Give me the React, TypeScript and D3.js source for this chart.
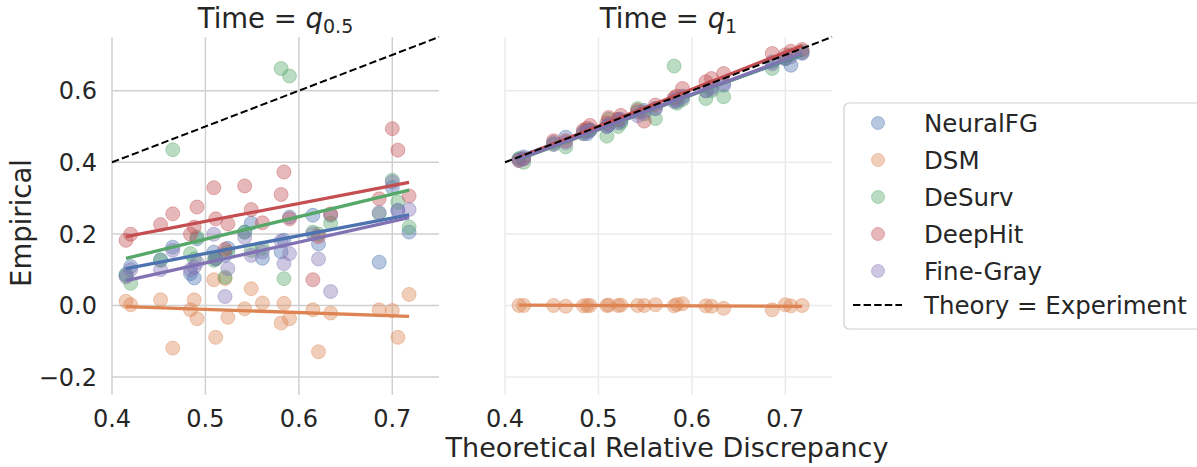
import React from 'react';
import * as d3 from 'd3';

// experiment settings (theoretical relative discrepancy)
const xs = [0.415, 0.42, 0.452, 0.465, 0.484, 0.488, 0.491, 0.509, 0.511, 0.521, 0.524, 0.542,
  0.549, 0.561, 0.581, 0.584, 0.59, 0.615, 0.621, 0.634, 0.686, 0.7, 0.706, 0.718];

const models = ['NeuralFG', 'DSM', 'DeSurv', 'DeepHit', 'Fine-Gray'];
const colors = ['#4C72B0', '#DD8452', '#55A868', '#C44E52', '#8172B3'];

// Time = q0.5
const halfNeuralFG = [0.087, 0.109, 0.128, 0.163, 0.089, 0.077, 0.186, 0.149, 0.131, 0.14, 0.16, 0.205,
  0.23, 0.132, 0.15, 0.182, 0.247, 0.252, 0.172, 0.252, 0.121, 0.33, 0.266, 0.205];
const halfDSM = [0.012, 0.002, 0.016, -0.119, -0.012, 0.016, -0.037, 0.072, -0.089, 0.075, -0.033, -0.009,
  0.047, 0.007, -0.049, 0.006, -0.037, -0.012, -0.129, -0.021, -0.012, -0.014, -0.089, 0.031];
const halfDeSurv = [0.084, 0.062, 0.126, 0.435, 0.145, 0.13, 0.191, 0.126, 0.13, 0.079, 0.149, 0.205,
  0.154, 0.16, 0.662, 0.075, 0.641, 0.205, 0.2, 0.23, 0.256, 0.35, 0.289, 0.219];
const halfDeepHit = [0.182, 0.199, 0.226, 0.256, 0.199, 0.219, 0.275, 0.329, 0.242, 0.157, 0.228, 0.334,
  0.268, 0.231, 0.31, 0.373, 0.242, 0.072, 0.193, 0.256, 0.298, 0.494, 0.434, 0.306];
const halfFineGray = [0.08, 0.1, 0.1, 0.154, 0.1, 0.107, 0.12, 0.199, 0.13, 0.025, 0.103, 0.19,
  0.14, 0.15, 0.18, 0.117, 0.145, 0.2, 0.13, 0.039, 0.26, 0.345, 0.265, 0.268];

// Time = q1
const fullNeuralFG = [0.41, 0.415, 0.455, 0.47, 0.485, 0.48, 0.49, 0.5, 0.505, 0.52, 0.515, 0.54,
  0.545, 0.55, 0.575, 0.57, 0.585, 0.6, 0.61, 0.615, 0.68, 0.69, 0.671, 0.705];
const fullDSM = [0.0, 0.0, 0.0, -0.002, -0.001, 0.0, 0.0, 0.0, 0.001, 0.0, 0.001, 0.0,
  0.0, 0.002, -0.001, 0.003, 0.005, -0.001, -0.002, -0.008, -0.012, 0.002, -0.001, 0.0];
const fullDeSurv = [0.41, 0.4, 0.45, 0.443, 0.48, 0.49, 0.49, 0.473, 0.52, 0.5, 0.51, 0.55,
  0.535, 0.522, 0.669, 0.565, 0.575, 0.578, 0.6, 0.583, 0.662, 0.69, 0.7, 0.71];
const fullDeepHit = [0.405, 0.41, 0.46, 0.46, 0.49, 0.495, 0.503, 0.51, 0.525, 0.52, 0.531, 0.545,
  0.515, 0.56, 0.58, 0.585, 0.606, 0.625, 0.634, 0.648, 0.704, 0.7, 0.71, 0.715];
const fullFineGray = [0.405, 0.41, 0.45, 0.455, 0.48, 0.485, 0.49, 0.5, 0.505, 0.51, 0.52, 0.53,
  0.54, 0.55, 0.57, 0.575, 0.58, 0.6, 0.605, 0.62, 0.675, 0.69, 0.695, 0.705];

const xTicks = [0.4, 0.5, 0.6, 0.7];
const yTicks = [-0.2, 0.0, 0.2, 0.4, 0.6];

const panels = [
  { sub: '0.5', series: [halfNeuralFG, halfDSM, halfDeSurv, halfDeepHit, halfFineGray], range: [112, 439], grid: '#d0d0d0' },
  { sub: '1', series: [fullNeuralFG, fullDSM, fullDeSurv, fullDeepHit, fullFineGray], range: [505, 832], grid: '#ebebeb' },
];

const y = d3.scaleLinear().domain([-0.25, 0.75]).range([395, 37]);
const font = 'DejaVu Sans, sans-serif';
const ink = '#262626';

function fit(xv: number[], yv: number[]) {
  const mx = d3.mean(xv)!, my = d3.mean(yv)!;
  let num = 0, den = 0;
  xv.forEach((v, i) => { num += (v - mx) * (yv[i] - my); den += (v - mx) ** 2; });
  const slope = num / den;
  return (v: number) => my + slope * (v - mx);
}

const fmt = (v: number) => (v < 0 ? '\u2212' : '') + Math.abs(v).toFixed(1);

export default function App() {
  const xMin = d3.min(xs)!, xMax = d3.max(xs)!;
  return (
    <svg width={1197} height={467} style={{ position: 'absolute', left: 0, top: 0, fontFamily: font }}>
      <rect width={1197} height={467} fill="#fff" />
      {panels.map((p, pi) => {
        const x = d3.scaleLinear().domain([0.4, 0.75]).range(p.range);
        const cx = (p.range[0] + p.range[1]) / 2;
        return (
          <g key={pi}>
            {yTicks.map(t => (
              <line key={'gy' + t} x1={p.range[0]} x2={p.range[1]} y1={y(t)} y2={y(t)} stroke={p.grid} strokeWidth={1.5} />
            ))}
            {xTicks.map(t => (
              <line key={'gx' + t} x1={x(t)} x2={x(t)} y1={37} y2={395} stroke={p.grid} strokeWidth={1.5} />
            ))}
            {xTicks.map(t => (
              <text key={'tx' + t} x={x(t)} y={427} textAnchor="middle" fontSize={24} fill={ink}>{t.toFixed(1)}</text>
            ))}
            {pi === 0 && yTicks.map(t => (
              <text key={'ty' + t} x={97} y={y(t)} dy="0.36em" textAnchor="end" fontSize={24} fill={ink}>{fmt(t)}</text>
            ))}
            <text x={cx} y={28} textAnchor="middle" fontSize={27.5} fill={ink}>
              Time = <tspan fontStyle="italic">q</tspan><tspan fontSize={19} dy={5}>{p.sub}</tspan>
            </text>
            {p.series.map((s, si) => (
              <g key={'s' + si}>
                {s.map((v, i) => (
                  <circle key={i} cx={x(xs[i])} cy={y(v)} r={7} fill={colors[si]} fillOpacity={0.4}
                    stroke={colors[si]} strokeOpacity={0.4} strokeWidth={1} />
                ))}
              </g>
            ))}
            {p.series.map((s, si) => {
              const f = fit(xs, s);
              return <line key={'f' + si} x1={x(xMin)} x2={x(xMax)} y1={y(f(xMin))} y2={y(f(xMax))}
                stroke={colors[si]} strokeWidth={3.3} />;
            })}
            <line x1={x(0.4)} y1={y(0.4)} x2={x(0.75)} y2={y(0.75)} stroke="#000" strokeWidth={2} strokeDasharray="7.4,3.2" />
          </g>
        );
      })}
      <text x={667} y={457} textAnchor="middle" fontSize={27} fill={ink}>Theoretical Relative Discrepancy</text>
      <text transform="translate(31,223) rotate(-90)" textAnchor="middle" fontSize={27.5} fill={ink}>Empirical</text>
      <g>
        <rect x={844} y={103} width={370} height={226} rx={5} fill="#fff" stroke="#d0d0d0" strokeWidth={1.2} />
        {models.map((m, i) => (
          <g key={m}>
            <circle cx={878} cy={123 + i * 37} r={6.5} fill={colors[i]} fillOpacity={0.4} stroke={colors[i]} strokeOpacity={0.4} />
            <text x={924} y={123 + i * 37} dy="0.36em" fontSize={24.5} fill={ink}>{m}</text>
          </g>
        ))}
        <line x1={853} x2={902} y1={305} y2={305} stroke="#000" strokeWidth={2} strokeDasharray="7.4,3.2" />
        <text x={924} y={305} dy="0.36em" fontSize={24.5} fill={ink}>Theory = Experiment</text>
      </g>
    </svg>
  );
}
